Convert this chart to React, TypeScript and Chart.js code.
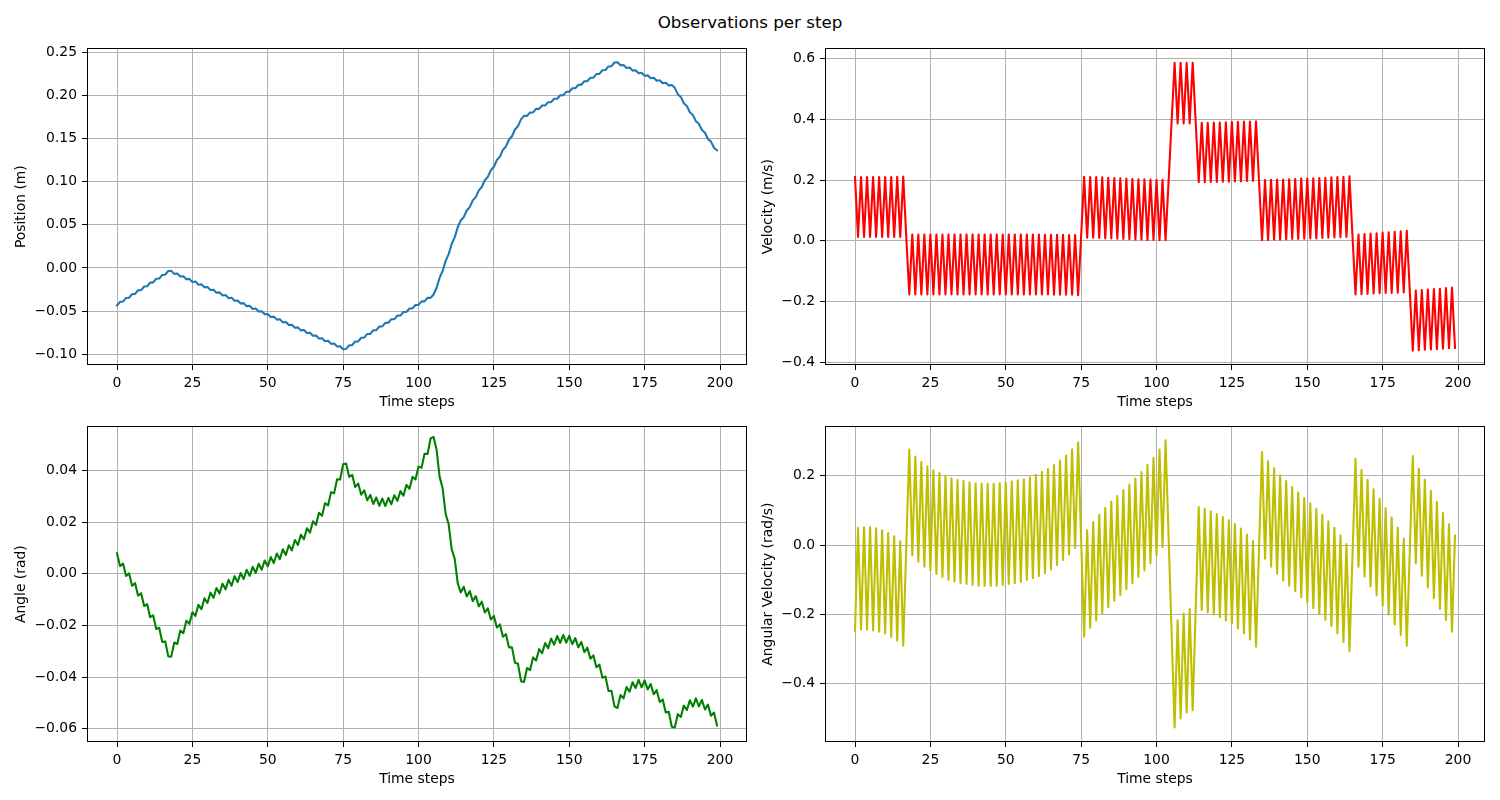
import React, { useEffect, useRef } from "react";
import { Chart, registerables } from "chart.js";

Chart.register(...registerables);
Chart.defaults.font.family = "'DejaVu Sans', sans-serif";
Chart.defaults.color = "#000";

const timeSteps: number[] = Array.from({ length: 200 }, (_, i) => i);

const position: number[] = [
  -0.0435, -0.0393, -0.0390, -0.0348, -0.0346, -0.0304, -0.0301, -0.0259, -0.0257, -0.0215,
  -0.0212, -0.0170, -0.0167, -0.0125, -0.0123, -0.0081, -0.0078, -0.0036, -0.0034, -0.0069,
  -0.0065, -0.0100, -0.0096, -0.0131, -0.0127, -0.0163, -0.0158, -0.0194, -0.0190, -0.0225,
  -0.0221, -0.0256, -0.0252, -0.0287, -0.0283, -0.0319, -0.0314, -0.0350, -0.0346, -0.0381,
  -0.0377, -0.0412, -0.0408, -0.0443, -0.0439, -0.0475, -0.0470, -0.0506, -0.0502, -0.0537,
  -0.0533, -0.0568, -0.0564, -0.0599, -0.0595, -0.0631, -0.0626, -0.0662, -0.0658, -0.0693,
  -0.0689, -0.0724, -0.0720, -0.0755, -0.0751, -0.0787, -0.0782, -0.0818, -0.0814, -0.0849,
  -0.0845, -0.0880, -0.0876, -0.0911, -0.0907, -0.0943, -0.0939, -0.0897, -0.0895, -0.0853,
  -0.0851, -0.0809, -0.0807, -0.0765, -0.0764, -0.0722, -0.0721, -0.0679, -0.0678, -0.0637,
  -0.0635, -0.0594, -0.0593, -0.0553, -0.0552, -0.0511, -0.0510, -0.0470, -0.0469, -0.0429,
  -0.0428, -0.0388, -0.0388, -0.0347, -0.0347, -0.0308, -0.0230, -0.0113, -0.0035, 0.0082,
  0.0160, 0.0277, 0.0354, 0.0472, 0.0550, 0.0588, 0.0666, 0.0705, 0.0783, 0.0821,
  0.0899, 0.0938, 0.1016, 0.1055, 0.1133, 0.1172, 0.1251, 0.1290, 0.1368, 0.1408,
  0.1486, 0.1526, 0.1604, 0.1644, 0.1722, 0.1762, 0.1762, 0.1802, 0.1803, 0.1843,
  0.1843, 0.1882, 0.1882, 0.1921, 0.1921, 0.1961, 0.1961, 0.2001, 0.2001, 0.2041,
  0.2042, 0.2082, 0.2082, 0.2122, 0.2123, 0.2163, 0.2164, 0.2205, 0.2206, 0.2247,
  0.2249, 0.2291, 0.2293, 0.2335, 0.2338, 0.2381, 0.2384, 0.2348, 0.2352, 0.2317,
  0.2322, 0.2287, 0.2291, 0.2257, 0.2262, 0.2227, 0.2232, 0.2198, 0.2204, 0.2169,
  0.2175, 0.2141, 0.2147, 0.2113, 0.2120, 0.2087, 0.2014, 0.1982, 0.1909, 0.1877,
  0.1805, 0.1773, 0.1701, 0.1670, 0.1598, 0.1567, 0.1495, 0.1464, 0.1393, 0.1363,
];

const velocity: number[] = [
  0.210, 0.013, 0.210, 0.013, 0.210, 0.013, 0.210, 0.013, 0.210, 0.013,
  0.210, 0.013, 0.210, 0.013, 0.211, 0.013, 0.212, 0.013, -0.177, 0.021,
  -0.177, 0.021, -0.177, 0.021, -0.177, 0.021, -0.177, 0.021, -0.177, 0.021,
  -0.177, 0.021, -0.177, 0.021, -0.177, 0.021, -0.177, 0.021, -0.177, 0.021,
  -0.177, 0.021, -0.177, 0.021, -0.177, 0.021, -0.177, 0.021, -0.177, 0.021,
  -0.177, 0.021, -0.177, 0.021, -0.177, 0.021, -0.177, 0.021, -0.177, 0.021,
  -0.177, 0.021, -0.177, 0.020, -0.177, 0.020, -0.178, 0.020, -0.178, 0.020,
  -0.178, 0.019, -0.178, 0.019, -0.179, 0.017, 0.211, 0.010, 0.210, 0.010,
  0.210, 0.009, 0.209, 0.008, 0.208, 0.008, 0.207, 0.007, 0.206, 0.006,
  0.205, 0.005, 0.204, 0.004, 0.203, 0.004, 0.203, 0.003, 0.202, 0.003,
  0.201, 0.002, 0.201, 0.002, 0.195, 0.390, 0.587, 0.387, 0.587, 0.387,
  0.587, 0.387, 0.587, 0.390, 0.193, 0.389, 0.193, 0.389, 0.194, 0.390,
  0.194, 0.390, 0.195, 0.391, 0.195, 0.392, 0.196, 0.392, 0.196, 0.393,
  0.197, 0.393, 0.197, 0.394, 0.197, 0.002, 0.200, 0.003, 0.201, 0.004,
  0.202, 0.004, 0.202, 0.005, 0.203, 0.006, 0.204, 0.006, 0.205, 0.007,
  0.205, 0.008, 0.206, 0.008, 0.207, 0.009, 0.208, 0.010, 0.209, 0.011,
  0.210, 0.012, 0.211, 0.013, 0.213, 0.015, -0.177, 0.021, -0.176, 0.022,
  -0.175, 0.024, -0.174, 0.025, -0.173, 0.027, -0.172, 0.028, -0.172, 0.030,
  -0.171, 0.031, -0.170, 0.033, -0.165, -0.362, -0.164, -0.361, -0.162, -0.359,
  -0.161, -0.358, -0.159, -0.357, -0.158, -0.356, -0.156, -0.354, -0.154, -0.353,
];

const angle: number[] = [
  0.0080, 0.0030, 0.0040, -0.0008, 0.0002, -0.0046, -0.0036, -0.0085, -0.0075, -0.0125,
  -0.0117, -0.0168, -0.0161, -0.0214, -0.0209, -0.0264, -0.0262, -0.0320, -0.0321, -0.0266,
  -0.0272, -0.0220, -0.0230, -0.0182, -0.0194, -0.0149, -0.0163, -0.0120, -0.0137, -0.0095,
  -0.0113, -0.0073, -0.0093, -0.0055, -0.0076, -0.0038, -0.0060, -0.0023, -0.0046, -0.0009,
  -0.0032, 0.0003, -0.0020, 0.0016, -0.0008, 0.0027, 0.0004, 0.0039, 0.0016, 0.0052,
  0.0029, 0.0065, 0.0042, 0.0079, 0.0057, 0.0095, 0.0073, 0.0111, 0.0091, 0.0131,
  0.0112, 0.0152, 0.0134, 0.0177, 0.0160, 0.0204, 0.0190, 0.0237, 0.0225, 0.0274,
  0.0265, 0.0317, 0.0312, 0.0367, 0.0366, 0.0425, 0.0428, 0.0376, 0.0384, 0.0337,
  0.0350, 0.0307, 0.0324, 0.0285, 0.0306, 0.0271, 0.0296, 0.0264, 0.0292, 0.0263,
  0.0295, 0.0270, 0.0305, 0.0283, 0.0321, 0.0303, 0.0345, 0.0330, 0.0376, 0.0366,
  0.0416, 0.0411, 0.0466, 0.0465, 0.0525, 0.0531, 0.0481, 0.0376, 0.0332, 0.0232,
  0.0193, 0.0096, 0.0059, -0.0036, -0.0072, -0.0050, -0.0088, -0.0067, -0.0106, -0.0086,
  -0.0126, -0.0108, -0.0150, -0.0134, -0.0177, -0.0163, -0.0208, -0.0196, -0.0244, -0.0234,
  -0.0285, -0.0285, -0.0345, -0.0349, -0.0416, -0.0419, -0.0365, -0.0373, -0.0324, -0.0336,
  -0.0292, -0.0308, -0.0268, -0.0288, -0.0251, -0.0275, -0.0241, -0.0268, -0.0237, -0.0267,
  -0.0240, -0.0273, -0.0249, -0.0285, -0.0264, -0.0304, -0.0286, -0.0329, -0.0316, -0.0362,
  -0.0352, -0.0403, -0.0398, -0.0454, -0.0453, -0.0514, -0.0520, -0.0470, -0.0483, -0.0439,
  -0.0457, -0.0420, -0.0443, -0.0411, -0.0440, -0.0413, -0.0448, -0.0427, -0.0467, -0.0451,
  -0.0497, -0.0487, -0.0538, -0.0535, -0.0593, -0.0596, -0.0544, -0.0555, -0.0511, -0.0528,
  -0.0490, -0.0515, -0.0483, -0.0514, -0.0489, -0.0526, -0.0507, -0.0550, -0.0538, -0.0588,
];

const angularVelocity: number[] = [
  -0.248, 0.050, -0.243, 0.052, -0.243, 0.052, -0.246, 0.049, -0.250, 0.043,
  -0.255, 0.035, -0.265, 0.026, -0.276, 0.011, -0.290, -0.007, 0.276, -0.029,
  0.256, -0.048, 0.241, -0.062, 0.228, -0.073, 0.216, -0.083, 0.208, -0.092,
  0.200, -0.100, 0.193, -0.105, 0.188, -0.110, 0.185, -0.112, 0.181, -0.115,
  0.179, -0.117, 0.178, -0.118, 0.177, -0.118, 0.177, -0.117, 0.179, -0.115,
  0.181, -0.112, 0.184, -0.110, 0.187, -0.106, 0.190, -0.100, 0.196, -0.095,
  0.203, -0.089, 0.211, -0.081, 0.220, -0.070, 0.231, -0.057, 0.244, -0.043,
  0.259, -0.027, 0.277, -0.008, 0.297, 0.017, -0.264, 0.043, -0.238, 0.067,
  -0.217, 0.088, -0.197, 0.108, -0.179, 0.125, -0.160, 0.142, -0.144, 0.159,
  -0.127, 0.175, -0.110, 0.192, -0.092, 0.211, -0.073, 0.231, -0.052, 0.252,
  -0.029, 0.276, -0.005, 0.303, 0.027, -0.250, -0.526, -0.217, -0.500, -0.197,
  -0.483, -0.184, -0.476, -0.183, 0.110, -0.188, 0.105, -0.194, 0.098, -0.200,
  0.090, -0.208, 0.081, -0.217, 0.072, -0.226, 0.061, -0.240, 0.048, -0.255,
  0.031, -0.272, 0.012, -0.293, -0.011, 0.269, -0.039, 0.243, -0.062, 0.222,
  -0.082, 0.202, -0.102, 0.185, -0.117, 0.168, -0.133, 0.152, -0.150, 0.136,
  -0.165, 0.121, -0.182, 0.105, -0.198, 0.088, -0.215, 0.069, -0.234, 0.050,
  -0.255, 0.028, -0.279, 0.003, -0.306, -0.030, 0.249, -0.062, 0.217, -0.090,
  0.189, -0.119, 0.161, -0.145, 0.134, -0.174, 0.107, -0.200, 0.080, -0.229,
  0.050, -0.259, 0.019, -0.290, -0.016, 0.257, -0.052, 0.221, -0.088, 0.189,
  -0.122, 0.157, -0.153, 0.125, -0.184, 0.093, -0.216, 0.060, -0.250, 0.028,
];

const xTicks: number[] = [0, 25, 50, 75, 100, 125, 150, 175, 200];
const xTickLabels: string[] = ["0", "25", "50", "75", "100", "125", "150", "175", "200"];
const positionTicks: number[] = [-0.1, -0.05, 0, 0.05, 0.1, 0.15, 0.2, 0.25];
const positionTickLabels: string[] = ["\u22120.10", "\u22120.05", "0.00", "0.05", "0.10", "0.15", "0.20", "0.25"];
const velocityTicks: number[] = [-0.4, -0.2, 0, 0.2, 0.4, 0.6];
const velocityTickLabels: string[] = ["\u22120.4", "\u22120.2", "0.0", "0.2", "0.4", "0.6"];
const angleTicks: number[] = [-0.06, -0.04, -0.02, 0, 0.02, 0.04];
const angleTickLabels: string[] = ["\u22120.06", "\u22120.04", "\u22120.02", "0.00", "0.02", "0.04"];
const angVelTicks: number[] = [-0.4, -0.2, 0, 0.2];
const angVelTickLabels: string[] = ["\u22120.4", "\u22120.2", "0.0", "0.2"];

const FONT_PX = 13.9;
const X_AXIS_H = 46;

const framePlugin = {
  id: "frameBox",
  afterDraw(chart: any) {
    const { ctx, chartArea: a } = chart;
    ctx.save();
    ctx.strokeStyle = "#000";
    ctx.lineWidth = 1;
    const l = Math.round(a.left) + 0.5;
    const t = Math.round(a.top) + 0.5;
    const r = Math.round(a.right) - 0.5;
    const b = Math.round(a.bottom) - 0.5;
    ctx.strokeRect(l, t, r - l, b - t);
    ctx.restore();
  },
};

type PanelProps = {
  left: number;
  top: number;
  width: number;
  height: number;
  yWidth: number;
  values: number[];
  color: string;
  yMin: number;
  yMax: number;
  yTicks: number[];
  yTickLabels: string[];
  yTitle: string;
};

function Panel(p: PanelProps) {
  const ref = useRef<HTMLCanvasElement | null>(null);
  useEffect(() => {
    if (!ref.current) return;
    const chart = new Chart(ref.current, {
      type: "line",
      data: {
        datasets: [
          {
            data: timeSteps.map((t, i) => ({ x: t, y: p.values[i] })),
            borderColor: p.color,
            borderWidth: 2.08,
            pointRadius: 0,
            fill: false,
            tension: 0,
            borderJoinStyle: "round",
            borderCapStyle: "square",
          },
        ],
      },
      options: {
        responsive: false,
        animation: false,
        devicePixelRatio: 1,
        layout: { padding: { top: 12, right: 12, left: 0, bottom: 0 } },
        plugins: { legend: { display: false }, tooltip: { enabled: false }, title: { display: false } },
        scales: {
          x: {
            type: "linear",
            min: -9.95,
            max: 208.95,
            afterBuildTicks: (s: any) => {
              s.ticks = xTicks.map((v) => ({ value: v }));
            },
            afterFit: (s: any) => {
              s.height = X_AXIS_H;
            },
            ticks: {
              autoSkip: false,
              maxRotation: 0,
              padding: 5,
              font: { size: FONT_PX },
              color: "#000",
              callback: (v: any) => {
                const i = xTicks.indexOf(Number(v));
                return i >= 0 ? xTickLabels[i] : "";
              },
            },
            grid: { color: "#b0b0b0", lineWidth: 1, tickLength: 5, tickColor: "#000", tickWidth: 1 },
            border: { display: false },
            title: { display: true, text: "Time steps", font: { size: FONT_PX }, color: "#000", padding: 0 },
          },
          y: {
            type: "linear",
            min: p.yMin,
            max: p.yMax,
            afterBuildTicks: (s: any) => {
              s.ticks = p.yTicks.map((v) => ({ value: v }));
            },
            afterFit: (s: any) => {
              s.width = p.yWidth;
            },
            ticks: {
              autoSkip: false,
              padding: 5,
              font: { size: FONT_PX },
              color: "#000",
              callback: (v: any) => {
                const i = p.yTicks.findIndex((t) => Math.abs(t - Number(v)) < 1e-9);
                return i >= 0 ? p.yTickLabels[i] : "";
              },
            },
            grid: { color: "#b0b0b0", lineWidth: 1, tickLength: 5, tickColor: "#000", tickWidth: 1 },
            border: { display: false },
            title: { display: true, text: p.yTitle, font: { size: FONT_PX }, color: "#000", padding: 0 },
          },
        },
      },
      plugins: [framePlugin],
    } as any);
    return () => chart.destroy();
  }, []);
  return (
    <canvas
      ref={ref}
      width={p.width}
      height={p.height}
      style={{ position: "absolute", left: p.left, top: p.top, width: p.width, height: p.height }}
    />
  );
}

export default function App() {
  return (
    <div style={{ position: "absolute", left: 0, top: 0, width: 1500, height: 800, background: "#fff", overflow: "hidden" }}>
      <div
        style={{
          position: "absolute",
          left: 0,
          top: 12,
          width: 1500,
          textAlign: "center",
          fontFamily: "'DejaVu Sans', sans-serif",
          fontSize: 16.7,
          lineHeight: "20px",
          color: "#000",
        }}
      >
        Observations per step
      </div>
      <Panel left={13} top={35} width={746} height={12 + 318 + X_AXIS_H} yWidth={74} values={position} color="#1f77b4"
        yMin={-0.1125} yMax={0.2545} yTicks={positionTicks} yTickLabels={positionTickLabels} yTitle="Position (m)" />
      <Panel left={760} top={35} width={737} height={12 + 318 + X_AXIS_H} yWidth={65} values={velocity} color="#ff0000"
        yMin={-0.4095} yMax={0.6345} yTicks={velocityTicks} yTickLabels={velocityTickLabels} yTitle="Velocity (m/s)" />
      <Panel left={13} top={413} width={746} height={12 + 317 + X_AXIS_H} yWidth={74} values={angle} color="#008000"
        yMin={-0.0652} yMax={0.0572} yTicks={angleTicks} yTickLabels={angleTickLabels} yTitle="Angle (rad)" />
      <Panel left={760} top={413} width={737} height={12 + 317 + X_AXIS_H} yWidth={65} values={angularVelocity} color="#bfbf00"
        yMin={-0.568} yMax={0.343} yTicks={angVelTicks} yTickLabels={angVelTickLabels} yTitle="Angular Velocity (rad/s)" />
    </div>
  );
}
